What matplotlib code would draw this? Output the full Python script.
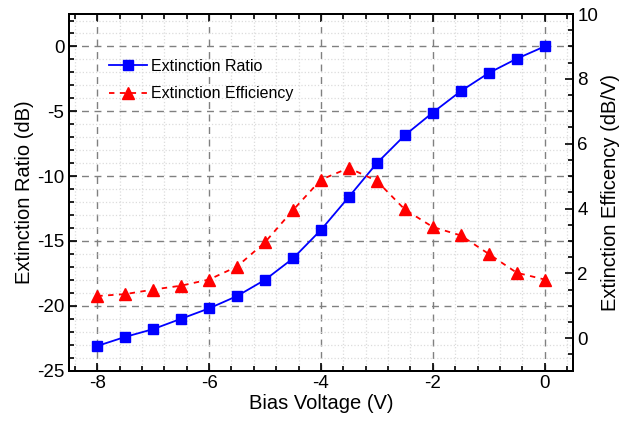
import numpy as np
import matplotlib
matplotlib.use("Agg")
import matplotlib.pyplot as plt
from matplotlib.ticker import MultipleLocator

plt.rcParams['font.family'] = ['Liberation Sans', 'DejaVu Sans']
plt.rcParams['axes.unicode_minus'] = False

# data
bias = [-8, -7.5, -7, -6.5, -6, -5.5, -5, -4.5, -4, -3.5, -3, -2.5, -2, -1.5, -1, -0.5, 0]
ratio = [-23.1, -22.4, -21.8, -21.0, -20.2, -19.25, -18.0, -16.35, -14.15,
         -11.6, -9.0, -6.85, -5.1, -3.45, -2.05, -0.95, 0.0]
efficiency = [1.3, 1.36, 1.5, 1.62, 1.81, 2.21, 2.96, 3.95, 4.89,
              5.25, 4.85, 3.97, 3.43, 3.17, 2.6, 2.02, 1.81]

fig = plt.figure(figsize=(6.19, 4.25), dpi=100)
ax = fig.add_axes([0.112, 0.128, 0.813, 0.839])
ax2 = ax.twinx()

l1, = ax.plot(bias, ratio, color='#0000ff', lw=1.3, marker='s', ms=7,
              label='Extinction Ratio', zorder=3)
l2, = ax2.plot(bias, efficiency, color='#ff0000', lw=1.3, ls=(0, (3, 3)),
               marker='^', ms=9, label='Extinction Efficiency', zorder=3)

ax.set_xlim(-8.5, 0.5)
ax.set_ylim(-25, 2.5)
ax2.set_ylim(-1, 10)

ax.xaxis.set_major_locator(MultipleLocator(2))
ax.xaxis.set_minor_locator(MultipleLocator(0.4))
ax.yaxis.set_major_locator(MultipleLocator(5))
ax.yaxis.set_minor_locator(MultipleLocator(1))
ax2.yaxis.set_major_locator(MultipleLocator(2))
ax2.yaxis.set_minor_locator(MultipleLocator(0.5))

ax.grid(which='minor', color='#dcdcdc', ls=':', lw=0.9)
ax.grid(which='major', color='#808080', ls=(0, (5, 4)), lw=1.0)
ax.set_axisbelow(True)

ax.tick_params(which='both', direction='in', top=True, labelsize=13.5, width=1.2)
ax.tick_params(which='major', length=6)
ax.tick_params(which='minor', length=3.5)
ax.tick_params(axis='y', right=False)
ax2.tick_params(which='both', direction='in', labelsize=13.5, width=1.2)
ax2.tick_params(which='major', length=6)
ax2.tick_params(which='minor', length=3.5)

for sp in ax.spines.values():
    sp.set_linewidth(1.4)
for sp in ax2.spines.values():
    sp.set_linewidth(1.4)

ax.set_xlabel('Bias Voltage (V)', fontsize=14.5, labelpad=1)
ax.set_ylabel('Extinction Ratio (dB)', fontsize=14.5, labelpad=2)
ax2.set_ylabel('Extinction Efficency (dB/V)', fontsize=14.5, labelpad=2)

ax2.legend(handles=[l1, l2], loc='upper left', bbox_to_anchor=(0.05, 0.915),
           frameon=False, fontsize=11.5, handlelength=2.4, handletextpad=0.25,
           labelspacing=0.8)

fig.savefig('out.png', dpi=100)
